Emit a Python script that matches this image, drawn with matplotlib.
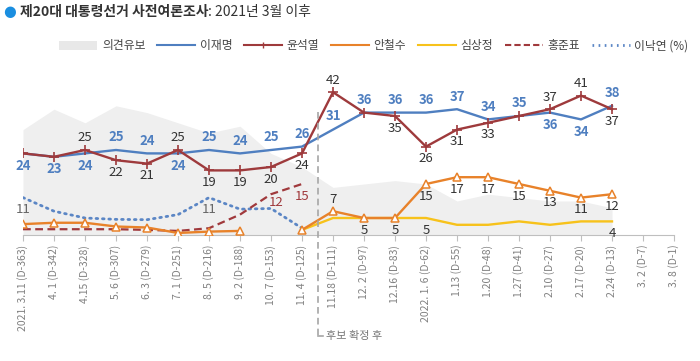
import matplotlib
matplotlib.use("Agg")
import matplotlib.pyplot as plt
from matplotlib.lines import Line2D
from matplotlib.patches import Patch
import numpy as np

plt.rcParams['font.family'] = ['Noto Sans CJK KR', 'DejaVu Sans']

tick_labels = ["2021. 3.11 (D-363)", "4. 1 (D-342)", "4.15 (D-328)", "5. 6 (D-307)",
               "6. 3 (D-279)", "7. 1 (D-251)", "8. 5 (D-216)", "9. 2 (D-188)",
               "10. 7 (D-153)", "11. 4 (D-125)", "11.18 (D-111)", "12. 2 (D-97)",
               "12.16 (D-83)", "2022. 1. 6 (D-62)", "1.13 (D-55)", "1.20 (D-48)",
               "1.27 (D-41)", "2.10 (D-27)", "2.17 (D-20)", "2.24 (D-13)",
               "3. 2 (D-7)", "3. 8 (D-1)"]

undecided = [31, 37, 33, 38, 36, 33, 30, 32, 24, 20, 14, 15, 16, 15, 10, 12, 11, 10, 10, 8]
lee_jm = [24, 23, 24, 25, 24, 24, 25, 24, 25, 26, 31, 36, 36, 36, 37, 34, 35, 36, 34, 38]
yoon = [24, 23, 25, 22, 21, 25, 19, 19, 20, 24, 42, 36, 35, 26, 31, 33, 35, 37, 41, 37]
ahn = [3.2, 3.6, 3.6, 2.5, 2.2, 0.6, 1.0, 1.2, None, 1.5, 7, 5, 5, 15, 17, 17, 15, 13, 11, 12]
sim = [None] * 9 + [1.5, 5, 5, 5, 5, 3, 3, 4, 3, 4, 4]
hong = [1.7, 1.7, 1.7, 1.7, 1.5, 1.2, 2, 6, 12, 15]
lee_ny = [11, 7, 5, 4.6, 4.5, 6, 11, 7.6, 7.8, 2]

C_LEE = '#4f7fc0'
C_YOON = '#9e3a3c'
C_AHN = '#e8822a'
C_SIM = '#f7c21b'
C_HONG = '#a0393c'
C_NY = '#5b86c5'
C_GRAY = '#efefef'
C_TXT = '#333333'

fig = plt.figure(figsize=(7, 3.61), dpi=100)
ax = fig.add_axes([23 / 700, 1 - 235 / 361, 651 / 700, 170 / 361])
ax.set_xlim(0, 21)
ax.set_ylim(0, 50)

def arr(v):
    return np.array([np.nan if a is None else a for a in v], dtype=float)

x_u = np.arange(len(undecided))
ax.fill_between(x_u, 0, undecided, color=C_GRAY, lw=0, zorder=1)

LW = 1.7
ax.plot(np.arange(len(lee_ny)), lee_ny, color=C_NY, lw=2.0, ls=(0, (0.6, 1.7)),
        dash_capstyle='round', zorder=3)
ax.plot(np.arange(len(hong)), hong, color=C_HONG, lw=1.6, ls=(0, (3.5, 2)), zorder=3)
ax.plot(np.arange(len(sim)), arr(sim), color=C_SIM, lw=LW, zorder=4)
ax.plot(np.arange(len(ahn)), arr(ahn), color=C_AHN, lw=LW, marker='^', ms=5.5,
        mfc='white', mec=C_AHN, mew=1.1, zorder=5)
ax.plot(np.arange(len(lee_jm)), lee_jm, color=C_LEE, lw=LW, zorder=6)
ax.plot(np.arange(len(yoon)), yoon, color=C_YOON, lw=LW, marker='+', ms=7, mew=1.2, zorder=7)

FS = 9.5
def label(series, pos, color, bold=False):
    for i, p in enumerate(pos):
        if p is None or series[i] is None:
            continue
        v = series[i]
        txt = str(int(round(v)))
        dx, dy = 0, 0
        if p == 'a':
            dy, va = 4, 'bottom'
        elif p == 'b':
            dy, va = -4, 'top'
        elif p == 'al':
            dx, dy, va = 0, 5, 'bottom'
        elif p == 'br':
            dx, dy, va = 4, -1, 'top'
        ax.annotate(txt, (i, v), xytext=(dx, dy), textcoords='offset points',
                    ha='center', va=va, fontsize=FS, color=color,
                    fontweight='bold' if bold else 'normal', zorder=10)

lee_pos = ['b', 'b', 'b', 'a', 'a', 'b', 'a', 'a', 'a', 'a', 'al', 'a', 'a', 'a', 'a',
           'a', 'a', 'b', 'b', 'a']
yoon_pos = [None, None, 'a', 'b', 'b', 'a', 'b', 'b', 'b', 'b', 'a', None, 'b', 'b', 'b',
            'b', None, 'a', 'a', 'b']
ahn_pos = [None] * 10 + ['a', 'b', 'b', 'b', 'b', 'b', 'b', 'b', 'b', 'b']
sim_pos = [None] * 13 + ['b'] + [None] * 5 + ['b']
hong_pos = [None] * 8 + ['br', 'b']
ny_pos = ['b'] + [None] * 5 + ['b'] + [None] * 3

label(lee_jm, lee_pos, C_LEE, bold=True)
label(yoon, yoon_pos, C_TXT)
label(ahn, ahn_pos, C_TXT)
label(sim, sim_pos, C_TXT)
label(hong, hong_pos, C_HONG)
label(lee_ny, ny_pos, '#666666')

for s in ['top', 'right', 'left']:
    ax.spines[s].set_visible(False)
ax.spines['bottom'].set_color('#bfbfbf')
ax.set_yticks([])
ax.set_xticks(range(len(tick_labels)))
ax.set_xticklabels(tick_labels, rotation=90, fontsize=7.5, color='#808080')
ax.tick_params(axis='x', length=4, color='#bfbfbf', pad=3)
ax.set_facecolor('none')

# candidate confirmation marker
xpix = 318 / 700
fig.add_artist(Line2D([xpix, xpix], [1 - 112 / 361, 1 - 336 / 361], color='#a6a6a6',
                      lw=1.2, ls=(0, (4, 2.5)), zorder=2))
fig.add_artist(Line2D([xpix, 323 / 700], [1 - 336 / 361, 1 - 336 / 361], color='#a6a6a6', lw=1.2))
fig.text(326 / 700, 1 - 336 / 361, '후보 확정 후', fontsize=8, color='#777777', va='center', ha='left')

# title
fig.text(10 / 700, 1 - 12 / 361, '●', fontsize=10.5, color='#1a8ee0', va='center', ha='center',
         family='DejaVu Sans')
t1 = fig.text(20 / 700, 1 - 12 / 361, '제20대 대통령선거 사전여론조사', fontsize=10,
              fontweight='bold', color='#333333', va='center', ha='left')
fig.canvas.draw()
bb = t1.get_window_extent()
fig.text(bb.x1 / 700, 1 - 12 / 361, ': 2021년 3월 이후', fontsize=10, color='#333333',
         va='center', ha='left')

handles = [Patch(facecolor='#e8e8e8', edgecolor='none'),
           Line2D([], [], color=C_LEE, lw=1.5),
           Line2D([], [], color=C_YOON, lw=1.5, marker='|', ms=5, markevery=[1]),
           Line2D([], [], color=C_AHN, lw=1.5),
           Line2D([], [], color=C_SIM, lw=1.5),
           Line2D([], [], color=C_HONG, lw=1.5, ls=(0, (3, 1.5))),
           Line2D([], [], color=C_NY, lw=2, ls=(0, (0.6, 1.6)))]
names = ['의견유보', '이재명', '윤석열', '안철수', '심상정', '홍준표', '이낙연 (%)']
leg = fig.legend(handles, names, loc='center', bbox_to_anchor=(374 / 700, 1 - 46 / 361),
                 ncol=7, frameon=False, fontsize=8.5, handlelength=3.2, handletextpad=0.4,
                 columnspacing=1.0, labelcolor='#444444')

fig.savefig('out.png', dpi=100)
